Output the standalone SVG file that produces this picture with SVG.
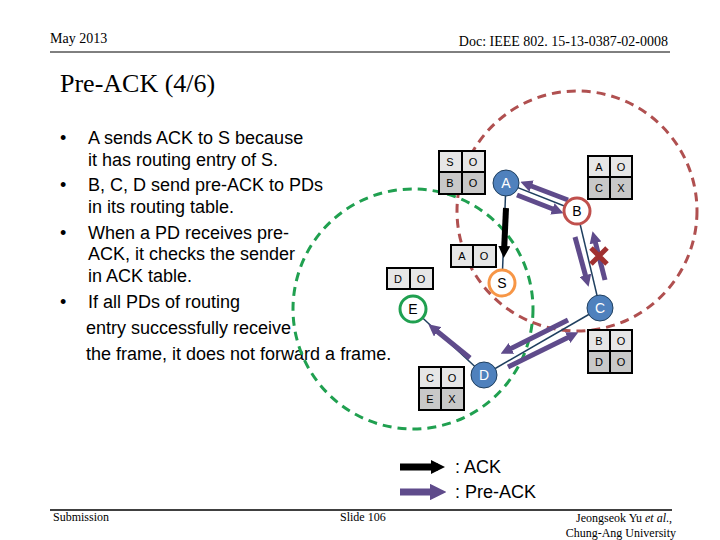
<svg xmlns="http://www.w3.org/2000/svg" width="720" height="540" viewBox="0 0 720 540">
<defs>
<style>
.t{font-family:"Liberation Serif",serif;fill:#000}
.b{font-family:"Liberation Sans",Arial,sans-serif;font-size:18px;fill:#000}
.c{font-family:"Liberation Sans",Arial,sans-serif;font-size:11px;fill:#000;text-anchor:middle}
.n{font-family:"Liberation Sans",Arial,sans-serif;font-size:14px;text-anchor:middle}
.l1{fill:#e6e6e6;stroke:#000;stroke-width:2}
.l2{fill:#c8c8c8;stroke:#000;stroke-width:2}
.pa{stroke:#5f4b8b;stroke-width:5;fill:none;marker-end:url(#mp)}
.ln{stroke:#1f3f5f;stroke-width:1.5}
</style>
<marker id="mp" viewBox="0 0 10 10" refX="5" refY="5" markerWidth="2.4" markerHeight="2.4" orient="auto" markerUnits="strokeWidth"><path d="M0,0 L10,5 L0,10 z" fill="#5f4b8b"/></marker>
<marker id="mb" viewBox="0 0 10 10" refX="5" refY="5" markerWidth="2" markerHeight="2" orient="auto" markerUnits="strokeWidth"><path d="M0,0 L10,5 L0,10 z" fill="#000"/></marker>
</defs>
<rect width="720" height="540" fill="#fff"/>
<text class="t" x="50" y="43" font-size="14">May 2013</text>
<text class="t" x="668" y="46" font-size="14" text-anchor="end">Doc: IEEE 802. 15-13-0387-02-0008</text>
<line x1="50" y1="52" x2="670" y2="52" stroke="#000" stroke-width="1"/>
<text class="t" x="60" y="92" font-size="26">Pre-ACK (4/6)</text>
<g class="b">
<text x="60" y="144">•</text><text x="60" y="191">•</text><text x="60" y="239">•</text><text x="60" y="308">•</text>
<text x="88" y="144">A sends ACK to S because</text>
<text x="88" y="166">it has routing entry of S.</text>
<text x="88" y="191">B, C, D send pre-ACK to PDs</text>
<text x="88" y="213">in its routing table.</text>
<text x="88" y="239">When a PD receives pre-</text>
<text x="88" y="260">ACK, it checks the sender</text>
<text x="88" y="282">in ACK table.</text>
<text x="88" y="308">If all PDs of routing</text>
<text x="86" y="334">entry successfully receive</text>
<text x="86" y="360">the frame, it does not forward a frame.</text>
</g>
<circle cx="577" cy="211" r="120" fill="none" stroke="#b05050" stroke-width="3" stroke-dasharray="9,6"/>
<circle cx="413" cy="309" r="120" fill="none" stroke="#20a050" stroke-width="3" stroke-dasharray="9,6"/>
<g id="connectors">
<line class="ln" x1="506" y1="183" x2="502" y2="283"/>
<line class="ln" x1="506" y1="183" x2="577" y2="211"/>
<line class="ln" x1="577" y1="211" x2="600" y2="308"/>
<line class="ln" x1="600" y1="308" x2="484" y2="375"/>
<line class="ln" x1="484" y1="375" x2="413" y2="309"/>
<line x1="506" y1="208" x2="504" y2="252" stroke="#000" stroke-width="6" marker-end="url(#mb)"/>
<line class="pa" x1="568" y1="200" x2="526" y2="184"/>
<line class="pa" x1="517" y1="195" x2="558" y2="211"/>
<line class="pa" x1="575" y1="237" x2="587" y2="281"/>
<line class="pa" x1="605" y1="280" x2="594" y2="237"/>
<line class="pa" x1="568" y1="320" x2="506" y2="351"/>
<line class="pa" x1="508" y1="367" x2="573" y2="335"/>
<line class="pa" x1="470" y1="358" x2="433" y2="328"/>
<path d="M591,248 L607,264 M607,248 L591,264" stroke="#a03030" stroke-width="5"/>
</g>
<g id="tS"><rect class="l1" x="439" y="151" width="23" height="21"/><rect class="l1" x="462" y="151" width="23" height="21"/><rect class="l2" x="439" y="172" width="23" height="22"/><rect class="l2" x="462" y="172" width="23" height="22"/><text class="c" x="450" y="166">S</text><text class="c" x="473" y="166">O</text><text class="c" x="450" y="187">B</text><text class="c" x="473" y="187">O</text></g>
<g id="tB"><rect class="l1" x="588" y="156" width="22" height="21"/><rect class="l1" x="610" y="156" width="22" height="21"/><rect class="l2" x="588" y="177" width="22" height="22"/><rect class="l2" x="610" y="177" width="22" height="22"/><text class="c" x="599" y="171">A</text><text class="c" x="621" y="171">O</text><text class="c" x="599" y="192">C</text><text class="c" x="621" y="192">X</text></g>
<g id="tA"><rect class="l1" x="451" y="245" width="22" height="22"/><rect class="l1" x="473" y="245" width="23" height="22"/><text class="c" x="462" y="260">A</text><text class="c" x="484" y="260">O</text></g>
<g id="tE"><rect class="l1" x="387" y="268" width="23" height="21"/><rect class="l1" x="410" y="268" width="23" height="21"/><text class="c" x="398" y="283">D</text><text class="c" x="421" y="283">O</text></g>
<g id="tC"><rect class="l1" x="588" y="330" width="22" height="21"/><rect class="l1" x="610" y="330" width="22" height="21"/><rect class="l2" x="588" y="351" width="22" height="22"/><rect class="l2" x="610" y="351" width="22" height="22"/><text class="c" x="599" y="345">B</text><text class="c" x="621" y="345">O</text><text class="c" x="599" y="366">D</text><text class="c" x="621" y="366">O</text></g>
<g id="tD"><rect class="l1" x="419" y="367" width="22" height="21"/><rect class="l1" x="441" y="367" width="23" height="21"/><rect class="l2" x="419" y="388" width="22" height="22"/><rect class="l2" x="441" y="388" width="23" height="22"/><text class="c" x="430" y="382">C</text><text class="c" x="452" y="382">O</text><text class="c" x="430" y="403">E</text><text class="c" x="452" y="403">X</text></g>
<g id="A"><circle cx="506" cy="183" r="13" fill="#4f81bd" stroke="#1f3f5f" stroke-width="1"/><text class="n" x="506" y="188" fill="#fff">A</text></g>
<g id="B"><circle cx="577" cy="211" r="13" fill="#fff" stroke="#c0504d" stroke-width="3"/><text class="n" x="577" y="216" fill="#000">B</text></g>
<g id="S"><circle cx="502" cy="283" r="13" fill="#fff" stroke="#f79646" stroke-width="3"/><text class="n" x="502" y="288" fill="#000">S</text></g>
<g id="E"><circle cx="413" cy="309" r="13" fill="#fff" stroke="#20a050" stroke-width="3"/><text class="n" x="413" y="314" fill="#000">E</text></g>
<g id="C"><circle cx="600" cy="308" r="13" fill="#4f81bd" stroke="#1f3f5f" stroke-width="1"/><text class="n" x="600" y="313" fill="#fff">C</text></g>
<g id="D"><circle cx="484" cy="375" r="13" fill="#4f81bd" stroke="#1f3f5f" stroke-width="1"/><text class="n" x="484" y="380" fill="#fff">D</text></g>
<g id="legend">
<line x1="400" y1="467" x2="438" y2="467" stroke="#000" stroke-width="7" marker-end="url(#mb)"/>
<line x1="400" y1="492" x2="438" y2="492" stroke="#5f4b8b" stroke-width="7" marker-end="url(#mp)"/>
<text class="b" x="455" y="473">: ACK</text>
<text class="b" x="455" y="498">: Pre-ACK</text>
</g>
<line x1="50" y1="510" x2="672" y2="510" stroke="#000" stroke-width="1.5"/>
<text class="t" x="53" y="521" font-size="12">Submission</text>
<text class="t" x="340" y="521" font-size="12">Slide 106</text>
<text class="t" x="672" y="522" font-size="12" text-anchor="end">Jeongseok Yu <tspan font-style="italic">et al</tspan>.,</text>
<text class="t" x="676" y="537" font-size="12" text-anchor="end">Chung-Ang University</text>
</svg>
